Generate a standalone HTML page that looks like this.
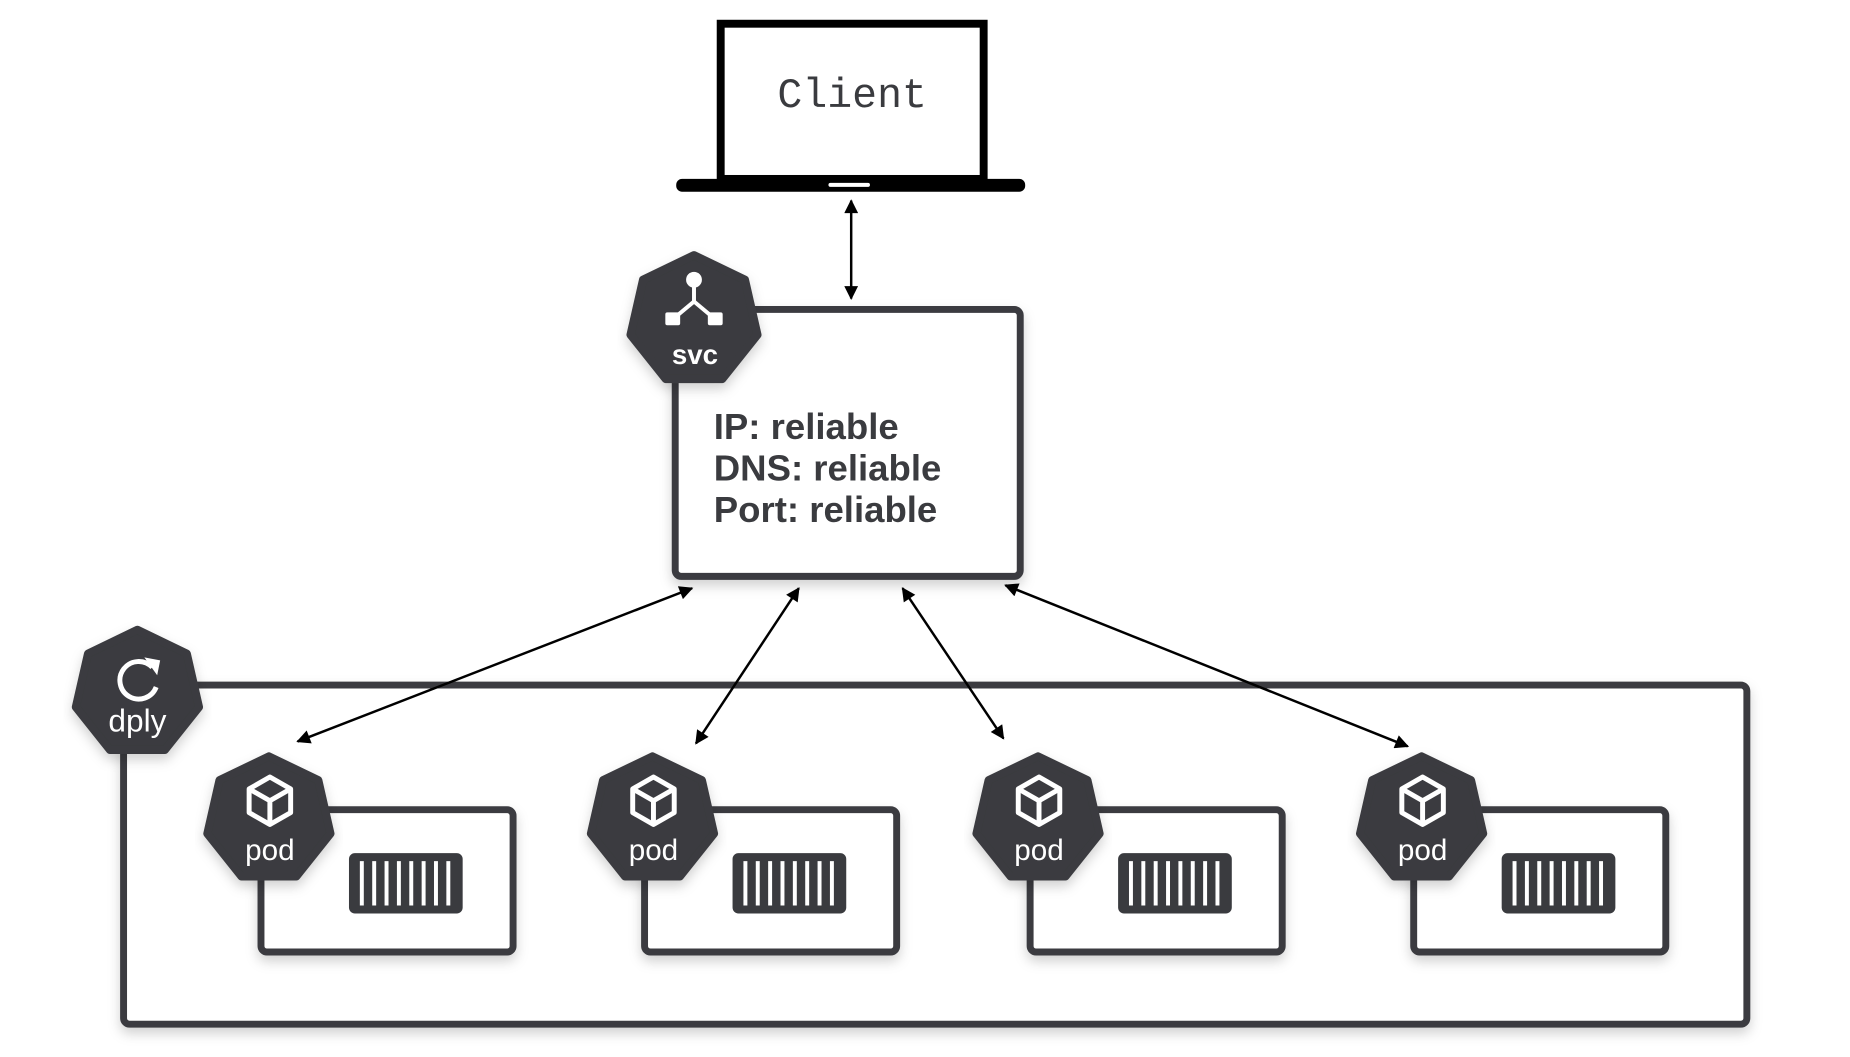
<!DOCTYPE html>
<html><head><meta charset="utf-8"><style>
html,body{margin:0;padding:0;background:#fff;}
svg{display:block;}
</style></head><body>
<svg width="1850" height="1057" viewBox="0 0 1850 1057" xmlns="http://www.w3.org/2000/svg">
<defs>
<filter id="sh" x="-10%" y="-10%" width="120%" height="130%">
<feDropShadow dx="0" dy="6" stdDeviation="6" flood-color="#000" flood-opacity="0.18"/>
</filter>
<marker id="ah2" viewBox="0 0 10 10" refX="9" refY="5" markerWidth="16" markerHeight="14" orient="auto-start-reverse" markerUnits="userSpaceOnUse">
<path d="M0,0 L10,5 L0,10 z" fill="#000"/>
</marker>
<polygon id="hep" points="0,-0.94 0.735,-0.586 0.916,0.209 0.408,0.847 -0.408,0.847 -0.916,0.209 -0.735,-0.586" fill="#3a3b3f" stroke="#3a3b3f" stroke-width="0.12" stroke-linejoin="round"/>
<g id="pod">
<rect x="264" y="819" width="255" height="144" rx="6" fill="#fff" stroke="#3a3b3f" stroke-width="7" filter="url(#sh)"/>
<rect x="353" y="863" width="115" height="61" rx="6" fill="#3a3b3f"/>
<g stroke="#fff" stroke-width="4">
<line x1="366" y1="871" x2="366" y2="916"/><line x1="378.5" y1="871" x2="378.5" y2="916"/><line x1="391" y1="871" x2="391" y2="916"/><line x1="403.5" y1="871" x2="403.5" y2="916"/><line x1="416" y1="871" x2="416" y2="916"/><line x1="428.5" y1="871" x2="428.5" y2="916"/><line x1="441" y1="871" x2="441" y2="916"/><line x1="453.5" y1="871" x2="453.5" y2="916"/>
</g>
<g filter="url(#sh)"><use href="#hep" transform="translate(272,829) scale(68)"/></g>
<g fill="none" stroke="#fff" stroke-width="5" stroke-linejoin="round">
<path d="M273,786 L294,798 L294,822 L273,834 L252,822 L252,798 Z"/>
<path d="M252,798 L273,810 L294,798 M273,810 L273,834"/>
</g>
<text x="273" y="870" font-family="Liberation Sans, sans-serif" font-size="30" fill="#fff" text-anchor="middle">pod</text>
</g>
</defs>
<g transform="scale(0.9886)">
<!-- Laptop -->
<rect x="729" y="24" width="266" height="157" fill="#fff" stroke="#000" stroke-width="8"/>
<rect x="684" y="181" width="353" height="13" rx="6" fill="#000"/>
<rect x="838" y="185" width="42" height="4" rx="2" fill="#fff"/>
<text x="862" y="108" font-family="Liberation Mono, monospace" font-size="42" fill="#3a3b3f" text-anchor="middle">Client</text>

<line x1="861" y1="203" x2="861" y2="302" stroke="#000" stroke-width="2.5" marker-start="url(#ah2)" marker-end="url(#ah2)"/>

<!-- dply container -->
<rect x="125" y="693" width="1642" height="343" rx="6" fill="#fff" stroke="#3a3b3f" stroke-width="7" filter="url(#sh)"/>

<use href="#pod"/>
<use href="#pod" transform="translate(388,0)"/>
<use href="#pod" transform="translate(778,0)"/>
<use href="#pod" transform="translate(1166,0)"/>

<!-- dply hept -->
<g filter="url(#sh)"><use href="#hep" transform="translate(139,701) scale(68)"/></g>
<path d="M154,675 A19,19 0 1 0 158,695" fill="none" stroke="#fff" stroke-width="5"/>
<path d="M146,665 L162,668 L159,683 Z" fill="#fff"/>
<text x="139" y="740" font-family="Liberation Sans, sans-serif" font-size="32" fill="#fff" text-anchor="middle">dply</text>

<!-- SVC box -->
<rect x="683" y="313" width="349" height="270" rx="6" fill="#fff" stroke="#3a3b3f" stroke-width="7" filter="url(#sh)"/>
<g font-family="Liberation Sans, sans-serif" font-weight="bold" font-size="37" fill="#3a3b3f">
<text x="722" y="444">IP: reliable</text>
<text x="722" y="486">DNS: reliable</text>
<text x="722" y="528">Port: reliable</text>
</g>
<g filter="url(#sh)"><use href="#hep" transform="translate(702,324) scale(70)"/></g>
<circle cx="702" cy="283" r="8" fill="#fff"/>
<path d="M702,288 L702,305 L684,320 M702,305 L720,320" fill="none" stroke="#fff" stroke-width="4"/>
<rect x="673" y="316" width="15" height="13" rx="2" fill="#fff"/>
<rect x="716" y="316" width="15" height="13" rx="2" fill="#fff"/>
<text x="703" y="368" font-family="Liberation Sans, sans-serif" font-weight="bold" font-size="28" fill="#fff" text-anchor="middle">svc</text>

<!-- arrows -->
<g stroke="#000" stroke-width="2.5" fill="none">
<line x1="700" y1="595" x2="301" y2="750" marker-start="url(#ah2)" marker-end="url(#ah2)"/>
<line x1="808" y1="595" x2="704" y2="752" marker-start="url(#ah2)" marker-end="url(#ah2)"/>
<line x1="913" y1="595" x2="1015" y2="747" marker-start="url(#ah2)" marker-end="url(#ah2)"/>
<line x1="1017" y1="592" x2="1424" y2="755" marker-start="url(#ah2)" marker-end="url(#ah2)"/>
</g>
</g>
</svg>
</body></html>
